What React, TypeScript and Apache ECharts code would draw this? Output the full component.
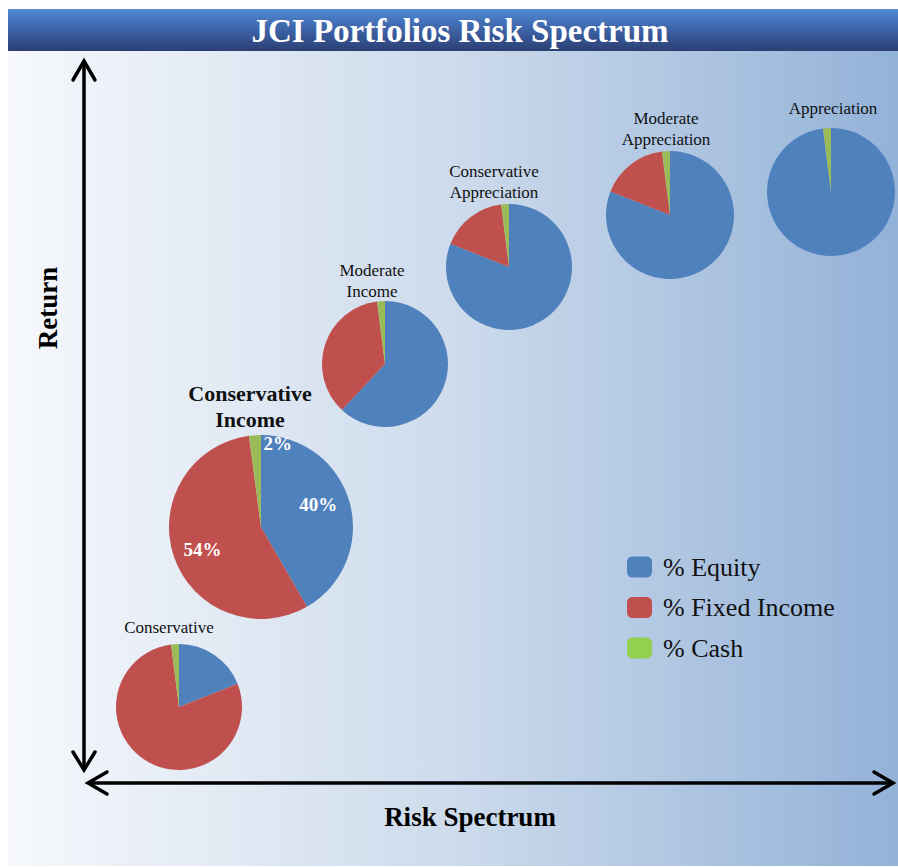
import React, { useEffect, useRef } from "react";
import * as echarts from "echarts";

const portfolios = [
  "Conservative",
  "Conservative Income",
  "Moderate Income",
  "Conservative Appreciation",
  "Moderate Appreciation",
  "Appreciation",
];
const nameLines = [
  ["Conservative"],
  ["Conservative", "Income"],
  ["Moderate", "Income"],
  ["Conservative", "Appreciation"],
  ["Moderate", "Appreciation"],
  ["Appreciation"],
];
const assetClasses = ["% Equity", "% Fixed Income", "% Cash"];
const equity = [19, 40, 62, 81, 81, 98];
const fixedIncome = [79, 54, 36, 17, 17, 0];
const cash = [2, 2, 2, 2, 2, 2];
const showLabels = [false, true, false, false, false, false];

// layout (pixels)
const centers = [
  [179, 707],
  [261, 527],
  [385, 364],
  [509, 267],
  [670, 215],
  [831, 192],
];
const radii = [63, 92, 63, 63, 64, 64];
const nameX = [169, 250, 372, 494, 666, 833];
const nameFirstLineY = [627, 393, 270, 171, 118, 108];
const nameSizes = [17, 22, 17, 17, 17, 17];
const nameLineHeights = [21, 26, 21, 21, 21, 21];
const nameBold = [false, true, false, false, false, false];
const labelOffsets = [
  [10, -10],
  [-12, 7],
  [20, -35],
];

const pieColors = ["#4F81BD", "#C0504D", "#9BBB59"];
const legendColors = ["#4F81BD", "#C0504D", "#92D050"];
const FONT = "'Liberation Serif', 'DejaVu Serif', serif";

export default function App() {
  const ref = useRef<HTMLDivElement>(null);
  useEffect(() => {
    if (!ref.current) return;
    const chart = echarts.init(ref.current, null, { renderer: "svg" });
    const values = [equity, fixedIncome, cash];

    const series = portfolios.map((p, i) => ({
      type: "pie",
      name: p,
      center: centers[i],
      radius: [0, radii[i]],
      startAngle: 90,
      clockwise: true,
      silent: true,
      avoidLabelOverlap: false,
      labelLine: { show: false },
      emphasis: { disabled: true },
      label: {
        show: showLabels[i],
        position: "inside",
        formatter: (d: any) => d.value + "%",
        color: "#ffffff",
        fontFamily: FONT,
        fontWeight: "bold",
        fontSize: 19,
      },
      data: assetClasses.map((a, k) => ({
        name: a,
        value: values[k][i],
        itemStyle: { color: pieColors[k] },
        label: { offset: labelOffsets[k] },
      })),
    }));

    const graphics: any[] = [
      {
        type: "rect",
        shape: { x: 8, y: 51, width: 890, height: 815 },
        style: {
          fill: new echarts.graphic.LinearGradient(0, 0, 1, 0, [
            { offset: 0, color: "#f6f8fc" },
            { offset: 0.5, color: "#cddbec" },
            { offset: 1, color: "#93b2d8" },
          ]),
        },
        z: -10,
        silent: true,
      },
      {
        type: "rect",
        shape: { x: 8, y: 9, width: 890, height: 42 },
        style: {
          fill: new echarts.graphic.LinearGradient(0, 0, 0, 1, [
            { offset: 0, color: "#5089d4" },
            { offset: 0.5, color: "#3d62a6" },
            { offset: 1, color: "#2b3f73" },
          ]),
        },
        z: -9,
        silent: true,
      },
      {
        type: "text",
        x: 460,
        y: 31,
        style: {
          text: "JCI Portfolios Risk Spectrum",
          fill: "#ffffff",
          font: `bold 33px ${FONT}`,
          textAlign: "center",
          textVerticalAlign: "middle",
        },
      },
      // vertical axis
      { type: "line", shape: { x1: 84, y1: 61, x2: 84, y2: 769 }, style: { stroke: "#000", lineWidth: 3.5 } },
      { type: "polyline", shape: { points: [[73, 80], [84, 61], [95, 80]] }, style: { stroke: "#000", lineWidth: 3.5, fill: "none", lineCap: "round" } },
      { type: "polyline", shape: { points: [[73, 752], [84, 770], [95, 752]] }, style: { stroke: "#000", lineWidth: 3.5, fill: "none", lineCap: "round" } },
      // horizontal axis
      { type: "line", shape: { x1: 88, y1: 783, x2: 892, y2: 783 }, style: { stroke: "#000", lineWidth: 3.5 } },
      { type: "polyline", shape: { points: [[107, 772], [88, 783], [107, 794]] }, style: { stroke: "#000", lineWidth: 3.5, fill: "none", lineCap: "round" } },
      { type: "polyline", shape: { points: [[874, 772], [893, 783], [874, 794]] }, style: { stroke: "#000", lineWidth: 3.5, fill: "none", lineCap: "round" } },
      {
        type: "text",
        x: 48,
        y: 308,
        rotation: Math.PI / 2,
        style: {
          text: "Return",
          fill: "#000",
          font: `bold 27px ${FONT}`,
          textAlign: "center",
          textVerticalAlign: "middle",
        },
      },
      {
        type: "text",
        x: 470,
        y: 817,
        style: {
          text: "Risk Spectrum",
          fill: "#000",
          font: `bold 27px ${FONT}`,
          textAlign: "center",
          textVerticalAlign: "middle",
        },
      },
    ];

    portfolios.forEach((p, i) => {
      graphics.push({
        type: "text",
        x: nameX[i],
        y: nameFirstLineY[i] - nameLineHeights[i] / 2,
        style: {
          text: nameLines[i].join("\n"),
          fill: "#111",
          font: `${nameBold[i] ? "bold " : ""}${nameSizes[i]}px ${FONT}`,
          lineHeight: nameLineHeights[i],
          textAlign: "center",
          textVerticalAlign: "top",
        },
      });
    });

    chart.setOption({
      animation: false,
      legend: {
        orient: "vertical",
        left: 627,
        top: 554,
        padding: 0,
        itemWidth: 25,
        itemHeight: 21,
        itemGap: 14.5,
        icon: "roundRect",
        selectedMode: false,
        textStyle: { fontFamily: FONT, fontSize: 26, lineHeight: 21, color: "#111", padding: [0, 0, 0, 6] },
        data: assetClasses.map((a, k) => ({ name: a, itemStyle: { color: legendColors[k] } })),
      },
      graphic: graphics,
      series,
    });
    return () => chart.dispose();
  }, []);
  return (
    <div
      ref={ref}
      style={{ position: "fixed", left: 0, top: 0, width: 898, height: 867, background: "#fff" }}
    />
  );
}
